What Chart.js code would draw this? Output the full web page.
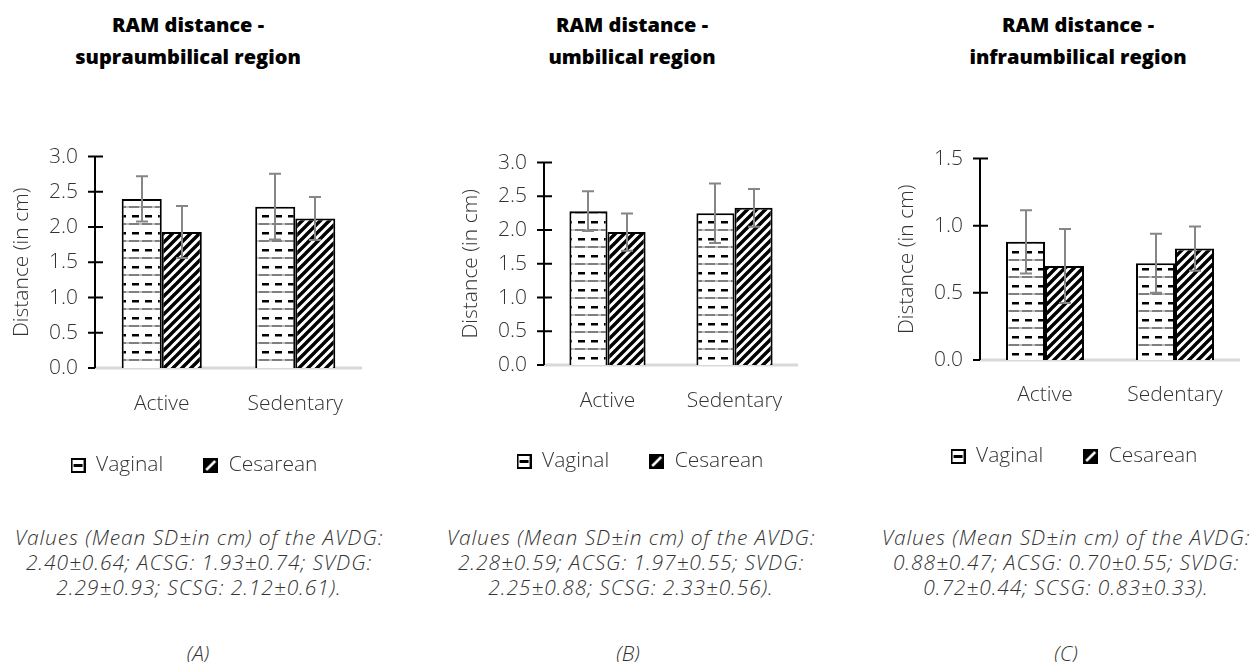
<!DOCTYPE html>
<html>
<head>
<meta charset="utf-8">
<script src="https://cdn.jsdelivr.net/npm/chart.js@4.4.0/dist/chart.umd.min.js"></script>
<style>
  html, body { margin: 0; padding: 0; background: #fff; }
  body { width: 1255px; height: 662px; overflow: hidden; position: relative; }
  .panel-title {
    position: absolute; top: 9px; width: 320px; text-align: center;
    font-family: 'Open Sans', sans-serif; font-weight: 800; font-size: 20px;
    line-height: 32px; color: #000;
  }
  .note {
    position: absolute; top: 525px; width: 460px; text-align: center;
    font-family: 'Open Sans', sans-serif; font-weight: 300; font-style: italic;
    font-size: 21px; line-height: 25px; letter-spacing: 0.9px;
    color: #333; white-space: nowrap;
  }
  .tag {
    position: absolute; top: 639px; width: 60px; text-align: center;
    font-family: 'Open Sans', sans-serif; font-weight: 300; font-style: italic;
    font-size: 21px; line-height: 28px; color: #333;
  }
  canvas { position: absolute; }
</style>
</head>
<body>

<div class="panel-title" style="left:28px">RAM distance -<br>supraumbilical region</div>
<div class="panel-title" style="left:472px">RAM distance -<br>umbilical region</div>
<div class="panel-title" style="left:918px">RAM distance -<br>infraumbilical region</div>

<canvas id="chart-a" width="388" height="359" style="left:0px;top:127px"></canvas>
<canvas id="chart-b" width="388" height="349" style="left:446px;top:133px"></canvas>
<canvas id="chart-c" width="388" height="348" style="left:880px;top:129px"></canvas>

<div class="note" id="note-a" style="left:-31px"></div>
<div class="note" id="note-b" style="left:401px"></div>
<div class="note" id="note-c" style="left:836px"></div>

<div class="tag" style="left:168px">(A)</div>
<div class="tag" style="left:598px">(B)</div>
<div class="tag" style="left:1036px">(C)</div>

<script>
// categories and series
const groups = ['Active', 'Sedentary'];
const seriesNames = ['Vaginal', 'Cesarean'];

// (A) supraumbilical
const supraVaginal = [2.40, 2.29];
const supraCesarean = [1.93, 2.12];
const supraVaginalSD = [0.64, 0.93];
const supraCesareanSD = [0.74, 0.61];

// (B) umbilical
const umbVaginal = [2.28, 2.25];
const umbCesarean = [1.97, 2.33];
const umbVaginalSD = [0.59, 0.88];
const umbCesareanSD = [0.55, 0.56];

// (C) infraumbilical
const infraVaginal = [0.88, 0.72];
const infraCesarean = [0.70, 0.83];
const infraVaginalSD = [0.47, 0.44];
const infraCesareanSD = [0.55, 0.33];

// y axis tops
const yMaxA = 3.0;
const yMaxB = 3.0;
const yMaxC = 1.5;

const textFont = "'Open Sans', sans-serif";
const textColor = '#333';

/* fill patterns like the excel ones */
function dashPattern(ctx) {
  const c = document.createElement('canvas');
  c.width = 13;
  c.height = 17;
  const g = c.getContext('2d');
  g.fillStyle = '#fff';
  g.fillRect(0, 0, 13, 17);
  g.fillStyle = '#000';
  g.fillRect(2, 3, 7, 2.5);
  g.fillRect(0, 11.5, 13, 1);
  g.fillStyle = '#fff';
  g.fillRect(9, 11.5, 3, 1);
  return ctx.createPattern(c, 'repeat');
}

function stripePattern(ctx) {
  const s = 9;
  const c = document.createElement('canvas');
  c.width = s;
  c.height = s;
  const g = c.getContext('2d');
  g.fillStyle = '#fff';
  g.fillRect(0, 0, s, s);
  g.strokeStyle = '#000';
  g.lineWidth = 3.4;
  g.beginPath();
  g.moveTo(-1, s + 1);
  g.lineTo(s + 1, -1);
  g.moveTo(-2, 2);
  g.lineTo(2, -2);
  g.moveTo(s - 2, s + 2);
  g.lineTo(s + 2, s - 2);
  g.stroke();
  return ctx.createPattern(c, 'repeat');
}

// little legend icons
function legendIcon(kind) {
  const c = document.createElement('canvas');
  c.width = 15;
  c.height = 15;
  const g = c.getContext('2d');
  if (kind === 0) {
    g.fillStyle = '#fff';
    g.fillRect(0, 0, 15, 15);
    g.strokeStyle = '#000';
    g.lineWidth = 2;
    g.strokeRect(1, 1, 13, 13);
    g.fillStyle = '#000';
    g.fillRect(3, 6, 9, 3);
  } else {
    g.fillStyle = '#000';
    g.fillRect(0, 0, 15, 15);
    g.strokeStyle = '#fff';
    g.lineWidth = 2.5;
    g.beginPath();
    g.moveTo(3, 12);
    g.lineTo(12, 3);
    g.stroke();
  }
  return c;
}

const axisPlugin = {
  id: 'excelAxes',
  beforeDatasetsDraw(chart) {
    const { ctx, scales: { x, y } } = chart;
    const y0 = y.getPixelForValue(0);
    ctx.save();
    ctx.strokeStyle = '#d9d9d9';
    ctx.lineWidth = 3;
    ctx.beginPath();
    ctx.moveTo(x.left, y0);
    ctx.lineTo(x.right, y0);
    ctx.stroke();
    ctx.restore();
  },
  afterDatasetsDraw(chart) {
    const { ctx, scales: { x, y } } = chart;
    ctx.save();

    // error bars (whiskers span one SD in total)
    ctx.strokeStyle = '#868686';
    ctx.lineWidth = 2;
    chart.data.datasets.forEach((ds, i) => {
      chart.getDatasetMeta(i).data.forEach((bar, j) => {
        const half = ds.sd[j] / 2;
        const top = y.getPixelForValue(ds.data[j] + half);
        const bot = y.getPixelForValue(ds.data[j] - half);
        const cx = Math.round(bar.x);
        ctx.beginPath();
        ctx.moveTo(cx, top);
        ctx.lineTo(cx, bot);
        ctx.moveTo(cx - 6, top);
        ctx.lineTo(cx + 6, top);
        ctx.moveTo(cx - 6, bot);
        ctx.lineTo(cx + 6, bot);
        ctx.stroke();
      });
    });

    // y axis line and crossing ticks
    ctx.strokeStyle = '#000';
    ctx.lineWidth = 2;
    ctx.beginPath();
    ctx.moveTo(x.left, y.top);
    ctx.lineTo(x.left, y.bottom);
    y.ticks.forEach((t) => {
      const py = y.getPixelForValue(t.value);
      ctx.moveTo(x.left - 7, py);
      ctx.lineTo(t.value === 0 ? x.left : x.left + 8, py);
    });
    ctx.stroke();
    ctx.restore();
  },
};

function makeChart(id, vaginal, cesarean, vaginalSD, cesareanSD, yMax, box) {
  const canvas = document.getElementById(id);
  const ctx = canvas.getContext('2d');
  const axisFont = { family: textFont, size: 21, weight: '300' };
  return new Chart(ctx, {
    type: 'bar',
    data: {
      labels: groups,
      datasets: [
        {
          label: seriesNames[0],
          data: vaginal,
          sd: vaginalSD,
          backgroundColor: dashPattern(ctx),
          borderColor: '#000',
          borderWidth: 2,
          icon: legendIcon(0),
        },
        {
          label: seriesNames[1],
          data: cesarean,
          sd: cesareanSD,
          backgroundColor: stripePattern(ctx),
          borderColor: '#000',
          borderWidth: 2,
          icon: legendIcon(1),
        },
      ],
    },
    options: {
      responsive: false,
      animation: false,
      devicePixelRatio: 1,
      datasets: {
        bar: { barPercentage: 1.0, categoryPercentage: 0.6 },
      },
      layout: {
        padding: { top: 4, right: 0, bottom: 0, left: 0 },
      },
      plugins: {
        tooltip: { enabled: false },
        legend: {
          position: 'bottom',
          labels: {
            usePointStyle: true,
            padding: 40,
            boxWidth: 15,
            boxHeight: 15,
            color: textColor,
            font: axisFont,
            generateLabels(chart) {
              return chart.data.datasets.map((ds, i) => ({
                text: ds.label,
                pointStyle: ds.icon,
                datasetIndex: i,
                hidden: false,
                lineWidth: 0,
                fontColor: textColor,
              }));
            },
          },
        },
      },
      scales: {
        x: {
          grid: { display: false, drawTicks: false },
          border: { display: false },
          ticks: {
            padding: box.tickPad,
            color: textColor,
            font: { ...axisFont, lineHeight: 1 },
          },
          afterFit(scale) {
            scale.height = box.xHeight;
          },
        },
        y: {
          min: 0,
          max: yMax,
          grid: { display: false, drawTicks: false },
          border: { display: false },
          ticks: {
            stepSize: 0.5,
            padding: 17,
            color: textColor,
            font: axisFont,
            callback: (v) => Number(v).toFixed(1),
          },
          title: {
            display: true,
            text: 'Distance (in cm)',
            color: textColor,
            font: axisFont,
            padding: { top: box.titlePad, bottom: 0 },
          },
          afterFit(scale) {
            scale.width = box.yWidth;
          },
        },
        // empty strip on the right so the legend sits where excel put it
        spacer: {
          type: 'linear',
          position: 'right',
          grid: { display: false },
          border: { display: false },
          ticks: { display: false },
          afterFit(scale) {
            scale.width = box.rightGap;
          },
        },
      },
    },
    plugins: [axisPlugin],
  });
}

makeChart('chart-a', supraVaginal, supraCesarean, supraVaginalSD, supraCesareanSD, yMaxA,
  { yWidth: 95, rightGap: 26, titlePad: 9, tickPad: 26, xHeight: 47 });
makeChart('chart-b', umbVaginal, umbCesarean, umbVaginalSD, umbCesareanSD, yMaxB,
  { yWidth: 98, rightGap: 36, titlePad: 12, tickPad: 26, xHeight: 46 });
makeChart('chart-c', infraVaginal, infraCesarean, infraVaginalSD, infraCesareanSD, yMaxC,
  { yWidth: 100, rightGap: 28, titlePad: 14, tickPad: 25, xHeight: 46 });

// footnotes, built from the same numbers
function fmt(v) {
  return v.toFixed(2);
}
function noteHtml(vag, ces, vagSD, cesSD) {
  return (
    'Values (Mean SD±in cm) of the AVDG:<br>' +
    fmt(vag[0]) + '±' + fmt(vagSD[0]) + '; ACSG: ' + fmt(ces[0]) + '±' + fmt(cesSD[0]) + '; SVDG:<br>' +
    fmt(vag[1]) + '±' + fmt(vagSD[1]) + '; SCSG: ' + fmt(ces[1]) + '±' + fmt(cesSD[1]) + ').'
  );
}
document.getElementById('note-a').innerHTML = noteHtml(supraVaginal, supraCesarean, supraVaginalSD, supraCesareanSD);
document.getElementById('note-b').innerHTML = noteHtml(umbVaginal, umbCesarean, umbVaginalSD, umbCesareanSD);
document.getElementById('note-c').innerHTML = noteHtml(infraVaginal, infraCesarean, infraVaginalSD, infraCesareanSD);
</script>
</body>
</html>
